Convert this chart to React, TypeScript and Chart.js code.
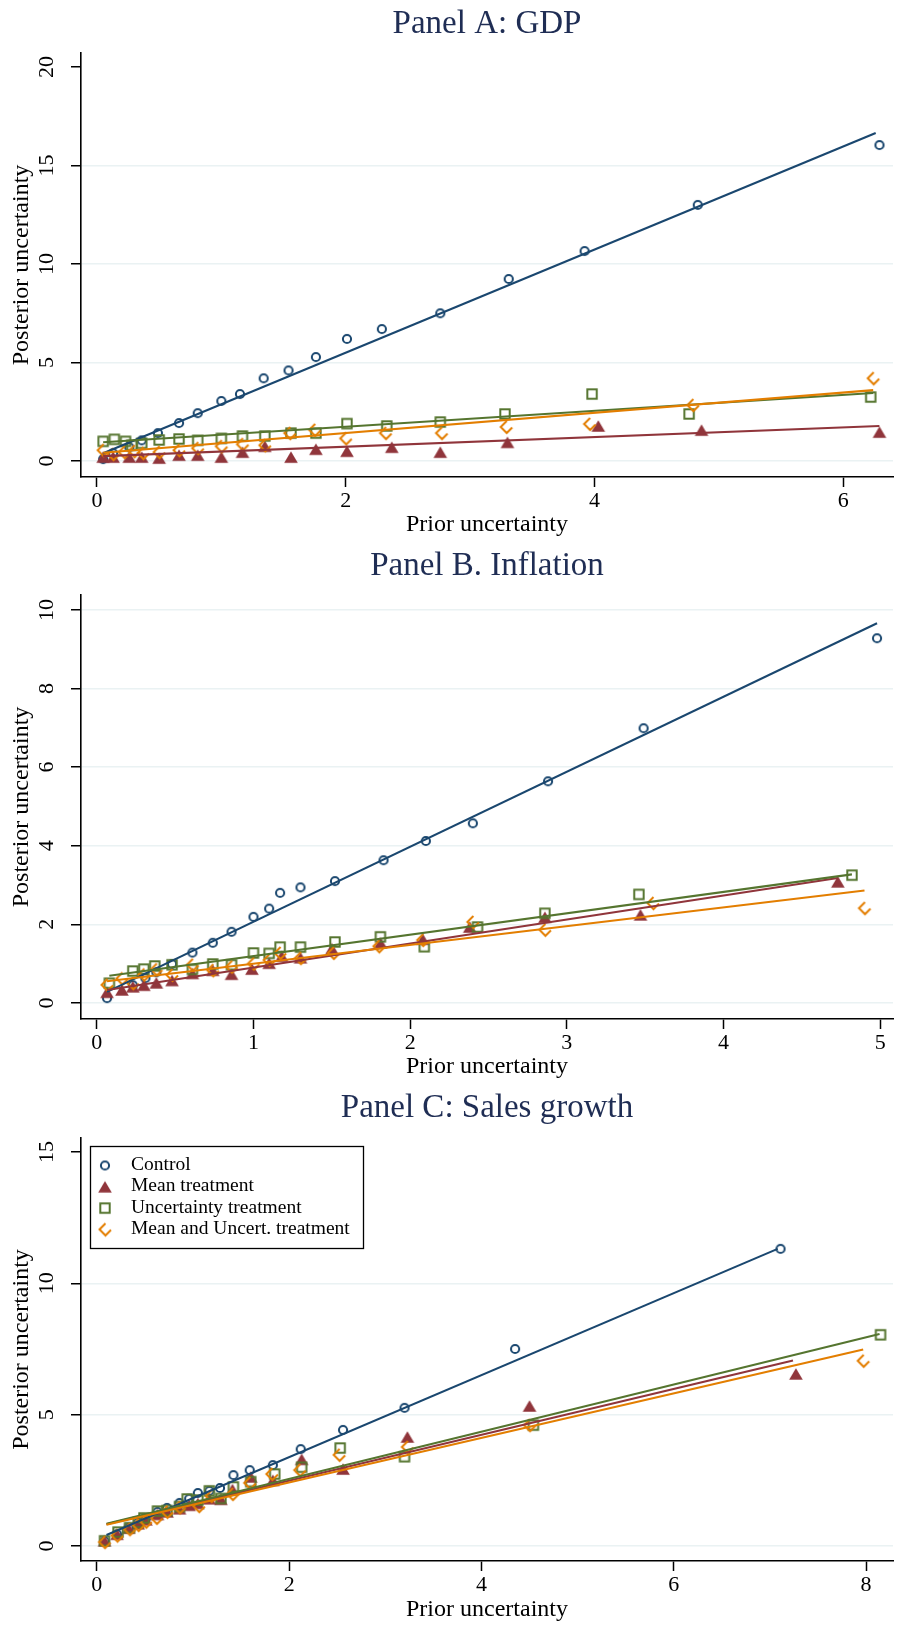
import React, { useEffect, useRef } from 'react';
import { Chart, registerables } from 'chart.js';

Chart.register(...registerables);

// ---------- shared series info ----------
const seriesLabels = ['Control', 'Mean treatment', 'Uncertainty treatment', 'Mean and Uncert. treatment'];
const seriesColors = ['#1a476f', '#90353b', '#55752f', '#e37e00'];
const seriesShapes = ['circle', 'triangle', 'square', 'diamond'];

// ---------- Panel A: GDP ----------
const gdpXTicks = [0, 2, 4, 6];
const gdpYTicks = [0, 5, 10, 15, 20];
const gdpControlX = [0.05, 0.13, 0.26, 0.36, 0.49, 0.66, 0.81, 1.0, 1.15, 1.34, 1.54, 1.76, 2.01, 2.29, 2.76, 3.31, 3.92, 4.83, 6.29];
const gdpControlY = [0.1, 0.4, 0.7, 1.05, 1.42, 1.93, 2.43, 3.05, 3.4, 4.2, 4.6, 5.28, 6.2, 6.7, 7.5, 9.24, 10.66, 13.0, 16.04];
const gdpMeanX = [0.05, 0.13, 0.26, 0.36, 0.5, 0.66, 0.81, 1.0, 1.17, 1.35, 1.56, 1.76, 2.01, 2.37, 2.76, 3.3, 4.03, 4.86, 6.29];
const gdpMeanY = [0.2, 0.2, 0.2, 0.2, 0.15, 0.3, 0.3, 0.2, 0.45, 0.75, 0.2, 0.6, 0.5, 0.7, 0.45, 0.95, 1.78, 1.57, 1.47];
const gdpUncX = [0.05, 0.14, 0.23, 0.28, 0.36, 0.5, 0.66, 0.81, 1.0, 1.17, 1.35, 1.56, 1.76, 2.01, 2.33, 2.76, 3.28, 3.98, 4.76, 6.22];
const gdpUncY = [1.0, 1.1, 1.0, 0.8, 0.9, 1.07, 1.12, 1.05, 1.15, 1.27, 1.27, 1.42, 1.42, 1.9, 1.78, 1.98, 2.39, 3.4, 2.39, 3.25];
const gdpBothX = [0.05, 0.13, 0.22, 0.3, 0.37, 0.5, 0.66, 0.81, 1.0, 1.17, 1.35, 1.55, 1.75, 2.0, 2.32, 2.77, 3.29, 3.96, 4.79, 6.24];
const gdpBothY = [0.55, 0.35, 0.45, 0.5, 0.4, 0.45, 0.55, 0.65, 0.75, 0.85, 0.8, 1.42, 1.58, 1.15, 1.42, 1.42, 1.73, 1.88, 2.84, 4.2];
const gdpControlFitX = [0.05, 6.26];
const gdpControlFitY = [0.4, 16.65];
const gdpMeanFitX = [0.05, 6.29];
const gdpMeanFitY = [0.25, 1.78];
const gdpUncFitX = [0.05, 6.24];
const gdpUncFitY = [0.95, 3.45];
const gdpBothFitX = [0.05, 6.24];
const gdpBothFitY = [0.42, 3.6];

// ---------- Panel B: Inflation ----------
const inflXTicks = [0, 1, 2, 3, 4, 5];
const inflYTicks = [0, 2, 4, 6, 8, 10];
const inflControlX = [0.065, 0.23, 0.31, 0.38, 0.48, 0.61, 0.74, 0.86, 1.0, 1.1, 1.17, 1.3, 1.52, 1.83, 2.1, 2.4, 2.88, 3.49, 4.98];
const inflControlY = [0.12, 0.45, 0.63, 0.78, 0.99, 1.28, 1.53, 1.81, 2.19, 2.4, 2.8, 2.94, 3.1, 3.63, 4.12, 4.57, 5.64, 6.99, 9.28];
const inflMeanX = [0.065, 0.16, 0.23, 0.3, 0.38, 0.48, 0.61, 0.74, 0.86, 0.99, 1.1, 1.18, 1.3, 1.5, 1.81, 2.08, 2.38, 2.86, 3.47, 4.73];
const inflMeanY = [0.27, 0.33, 0.41, 0.45, 0.51, 0.57, 0.75, 0.83, 0.73, 0.86, 1.01, 1.19, 1.15, 1.38, 1.53, 1.62, 1.93, 2.18, 2.24, 3.08];
const inflUncX = [0.08, 0.23, 0.3, 0.37, 0.48, 0.61, 0.74, 0.86, 1.0, 1.1, 1.17, 1.3, 1.52, 1.81, 2.09, 2.43, 2.86, 3.46, 4.82];
const inflUncY = [0.5, 0.81, 0.86, 0.94, 0.97, 0.85, 0.99, 0.97, 1.27, 1.26, 1.42, 1.42, 1.55, 1.68, 1.43, 1.93, 2.28, 2.76, 3.25];
const inflBothX = [0.065, 0.16, 0.23, 0.3, 0.38, 0.48, 0.61, 0.74, 0.86, 1.0, 1.1, 1.17, 1.3, 1.51, 1.8, 2.08, 2.4, 2.86, 3.55, 4.9];
const inflBothY = [0.46, 0.62, 0.5, 0.72, 0.85, 0.71, 0.97, 0.83, 0.92, 1.0, 1.09, 1.27, 1.14, 1.27, 1.44, 1.6, 2.06, 1.86, 2.54, 2.41];
const inflControlFitX = [0.065, 4.98];
const inflControlFitY = [0.28, 9.66];
const inflMeanFitX = [0.065, 4.73];
const inflMeanFitY = [0.33, 3.18];
const inflUncFitX = [0.08, 4.82];
const inflUncFitY = [0.69, 3.27];
const inflBothFitX = [0.065, 4.9];
const inflBothFitY = [0.55, 2.86];

// ---------- Panel C: Sales growth ----------
const salesXTicks = [0, 2, 4, 6, 8];
const salesYTicks = [0, 5, 10, 15];
const salesControlX = [0.08, 0.21, 0.33, 0.43, 0.51, 0.63, 0.73, 0.86, 0.96, 1.05, 1.17, 1.28, 1.42, 1.59, 1.83, 2.12, 2.56, 3.2, 4.35, 7.11];
const salesControlY = [0.19, 0.45, 0.7, 0.9, 1.05, 1.3, 1.45, 1.64, 1.8, 2.02, 2.1, 2.21, 2.7, 2.89, 3.08, 3.69, 4.42, 5.26, 7.5, 11.31];
const salesMeanX = [0.08, 0.21, 0.33, 0.43, 0.51, 0.63, 0.73, 0.86, 0.96, 1.05, 1.17, 1.29, 1.41, 1.6, 1.83, 2.13, 2.56, 3.23, 4.5, 7.27];
const salesMeanY = [0.2, 0.45, 0.68, 0.85, 1.0, 1.2, 1.3, 1.42, 1.55, 1.62, 1.8, 1.78, 2.15, 2.63, 2.5, 3.3, 2.93, 4.15, 5.33, 6.55];
const salesUncX = [0.08, 0.22, 0.34, 0.43, 0.49, 0.63, 0.73, 0.86, 0.94, 1.05, 1.17, 1.29, 1.42, 1.6, 1.85, 2.13, 2.53, 3.2, 4.54, 8.15];
const salesUncY = [0.2, 0.53, 0.7, 0.9, 1.07, 1.33, 1.35, 1.5, 1.79, 1.75, 2.1, 1.81, 2.25, 2.45, 2.74, 3.0, 3.73, 3.4, 4.6, 8.04];
const salesBothX = [0.08, 0.21, 0.34, 0.43, 0.51, 0.62, 0.73, 0.86, 1.06, 1.19, 1.41, 1.59, 1.82, 2.11, 2.52, 3.23, 4.5, 7.97];
const salesBothY = [0.15, 0.4, 0.64, 0.8, 0.93, 1.07, 1.3, 1.47, 1.52, 1.9, 1.98, 2.4, 2.74, 2.89, 3.47, 3.77, 4.6, 7.05];
const salesControlFitX = [0.1, 7.08];
const salesControlFitY = [0.42, 11.31];
const salesMeanFitX = [0.1, 7.24];
const salesMeanFitY = [0.83, 7.06];
const salesUncFitX = [0.1, 8.14];
const salesUncFitY = [0.85, 8.07];
const salesBothFitX = [0.1, 7.97];
const salesBothFitY = [0.81, 7.48];

// ---------- styling / layout ----------
const FONT = "'Liberation Serif', 'Times New Roman', serif";
const TITLE_COLOR = '#1f2d54';
const GRID = '#eaf2f3';

const panels = [
  {
    title: 'Panel A: GDP', top: 0, h: 540, titlePad: { top: 4.2, bottom: 9.2 }, xAxisH: 63, xTitlePad: 0.6,
    xMin: -0.128, xMax: 6.399, yMin: -0.81, yMax: 20.71, xTicks: gdpXTicks, yTicks: gdpYTicks, noGrid: [20],
    series: [[gdpControlX, gdpControlY], [gdpMeanX, gdpMeanY], [gdpUncX, gdpUncY], [gdpBothX, gdpBothY]],
    fits: [[gdpControlFitX, gdpControlFitY], [gdpMeanFitX, gdpMeanFitY], [gdpUncFitX, gdpUncFitY], [gdpBothFitX, gdpBothFitY]],
    legend: false,
  },
  {
    title: 'Panel B. Inflation', top: 540, h: 545, titlePad: { top: 6.2, bottom: 9.2 }, xAxisH: 66, xTitlePad: 3.6,
    xMin: -0.101, xMax: 5.082, yMin: -0.41, yMax: 10.38, xTicks: inflXTicks, yTicks: inflYTicks, noGrid: [],
    series: [[inflControlX, inflControlY], [inflMeanX, inflMeanY], [inflUncX, inflUncY], [inflBothX, inflBothY]],
    fits: [[inflControlFitX, inflControlFitY], [inflMeanFitX, inflMeanFitY], [inflUncFitX, inflUncFitY], [inflBothFitX, inflBothFitY]],
    legend: false,
  },
  {
    title: 'Panel C: Sales growth', top: 1085, h: 541, titlePad: { top: 3.2, bottom: 10.2 }, xAxisH: 65, xTitlePad: 1.6,
    xMin: -0.165, xMax: 8.28, yMin: -0.57, yMax: 15.53, xTicks: salesXTicks, yTicks: salesYTicks, noGrid: [15],
    series: [[salesControlX, salesControlY], [salesMeanX, salesMeanY], [salesUncX, salesUncY], [salesBothX, salesBothY]],
    fits: [[salesControlFitX, salesControlFitY], [salesMeanFitX, salesMeanFitY], [salesUncFitX, salesUncFitY], [salesBothFitX, salesBothFitY]],
    legend: true,
  },
];

function makeMarker(kind: string, color: string): HTMLCanvasElement {
  const c = document.createElement('canvas');
  c.width = 20;
  c.height = 20;
  const g = c.getContext('2d') as CanvasRenderingContext2D;
  g.strokeStyle = color;
  g.fillStyle = color;
  g.lineWidth = 2;
  g.lineJoin = 'miter';
  if (kind === 'circle') {
    g.beginPath();
    g.arc(10, 10, 4.1, 0, Math.PI * 2);
    g.stroke();
  } else if (kind === 'triangle') {
    g.beginPath();
    g.moveTo(10, 4.2);
    g.lineTo(16.8, 15.8);
    g.lineTo(3.2, 15.8);
    g.closePath();
    g.fill();
  } else if (kind === 'square') {
    g.strokeRect(5.3, 5.3, 9.4, 9.4);
  } else {
    g.beginPath();
    g.moveTo(10.5, 4);
    g.lineTo(4.5, 10);
    g.lineTo(10.5, 16);
    g.lineTo(16, 10.5);
    g.stroke();
  }
  return c;
}

function buildConfig(p: any, markers: HTMLCanvasElement[]): any {
  const datasets: any[] = [];
  p.series.forEach(([xs, ys]: number[][], i: number) => {
    datasets.push({
      label: seriesLabels[i],
      data: xs.map((x, k) => ({ x, y: ys[k] })),
      showLine: false,
      pointStyle: markers[i],
      pointRadius: 5,
      pointHoverRadius: 5,
      borderColor: seriesColors[i],
      backgroundColor: seriesColors[i],
      order: 10 - i,
    });
  });
  p.fits.forEach(([xs, ys]: number[][], i: number) => {
    datasets.push({
      label: seriesLabels[i] + ' (fit)',
      data: xs.map((x, k) => ({ x, y: ys[k] })),
      showLine: true,
      pointRadius: 0,
      borderColor: seriesColors[i],
      backgroundColor: seriesColors[i],
      borderWidth: 2.1,
      fill: false,
      order: -i,
    });
  });

  const legendPlugin = {
    id: 'stataLegend',
    afterDraw(chart: any) {
      const ctx = chart.ctx as CanvasRenderingContext2D;
      ctx.save();
      ctx.fillStyle = '#ffffff';
      ctx.fillRect(90, 61, 274, 103);
      ctx.strokeStyle = '#000000';
      ctx.lineWidth = 1.3;
      ctx.strokeRect(90.5, 61.5, 273, 102);
      ctx.font = `19.5px ${FONT}`;
      ctx.fillStyle = '#000000';
      ctx.textBaseline = 'alphabetic';
      ctx.textAlign = 'left';
      seriesLabels.forEach((lab, i) => {
        const base = 85 + i * 21.3;
        ctx.drawImage(markers[i], 105 - 10, base - 4.5 - 10);
        ctx.fillText(lab, 131, base);
      });
      ctx.restore();
    },
  };

  return {
    type: 'scatter',
    data: { datasets },
    plugins: p.legend ? [legendPlugin] : [],
    options: {
      responsive: false,
      animation: false,
      events: [],
      layout: { padding: 0 },
      plugins: {
        legend: { display: false },
        tooltip: { enabled: false },
        title: {
          display: true,
          text: p.title,
          fullSize: false,
          color: TITLE_COLOR,
          font: { family: FONT, size: 33, weight: 'normal', lineHeight: 1.2 },
          padding: p.titlePad,
        },
      },
      scales: {
        x: {
          type: 'linear',
          position: 'bottom',
          bounds: 'data',
          min: p.xMin,
          max: p.xMax,
          afterBuildTicks: (s: any) => {
            s.ticks = p.xTicks.map((v: number) => ({ value: v }));
          },
          afterFit: (s: any) => {
            s.height = p.xAxisH;
          },
          grid: { drawOnChartArea: false, drawTicks: true, tickLength: 10, tickColor: '#000', tickWidth: 1.5 },
          border: { display: true, color: '#000', width: 1.6 },
          ticks: {
            color: '#000',
            font: { family: FONT, size: 22 },
            padding: 1.4,
            maxRotation: 0,
            minRotation: 0,
            autoSkip: false,
            callback: (v: any) => String(v),
          },
          title: {
            display: true,
            text: 'Prior uncertainty',
            color: '#000',
            font: { family: FONT, size: 24 },
            padding: { top: 0, bottom: p.xTitlePad },
          },
        },
        y: {
          type: 'linear',
          position: 'left',
          bounds: 'data',
          min: p.yMin,
          max: p.yMax,
          afterBuildTicks: (s: any) => {
            s.ticks = p.yTicks.map((v: number) => ({ value: v }));
          },
          afterFit: (s: any) => {
            s.width = 81;
          },
          grid: {
            color: (c: any) => (c.tick && p.noGrid.includes(c.tick.value) ? 'rgba(0,0,0,0)' : GRID),
            lineWidth: 1.5,
            drawTicks: true,
            tickLength: 10,
            tickColor: '#000',
            tickWidth: 1.5,
          },
          border: { display: true, color: '#000', width: 1.6 },
          ticks: {
            color: '#000',
            font: { family: FONT, size: 22 },
            padding: 12.5,
            minRotation: 90,
            maxRotation: 90,
            crossAlign: 'center',
            autoSkip: false,
            callback: (v: any) => String(v),
          },
          title: {
            display: true,
            text: 'Posterior uncertainty',
            color: '#000',
            font: { family: FONT, size: 24 },
            padding: { top: 7.6, bottom: 0 },
          },
        },
      },
    },
  };
}

function Panel({ p }: { p: any }) {
  const ref = useRef<HTMLCanvasElement>(null);
  useEffect(() => {
    if (!ref.current) return;
    const markers = seriesShapes.map((s, i) => makeMarker(s, seriesColors[i]));
    const chart = new Chart(ref.current, buildConfig(p, markers));
    return () => chart.destroy();
  }, [p]);
  return (
    <canvas
      ref={ref}
      width={899}
      height={p.h}
      style={{ position: 'absolute', left: 0, top: p.top, width: 899, height: p.h }}
    />
  );
}

export default function App() {
  return (
    <div style={{ position: 'absolute', left: 0, top: 0, width: 899, height: 1626, background: '#ffffff' }}>
      {panels.map((p) => (
        <Panel key={p.title} p={p} />
      ))}
    </div>
  );
}
